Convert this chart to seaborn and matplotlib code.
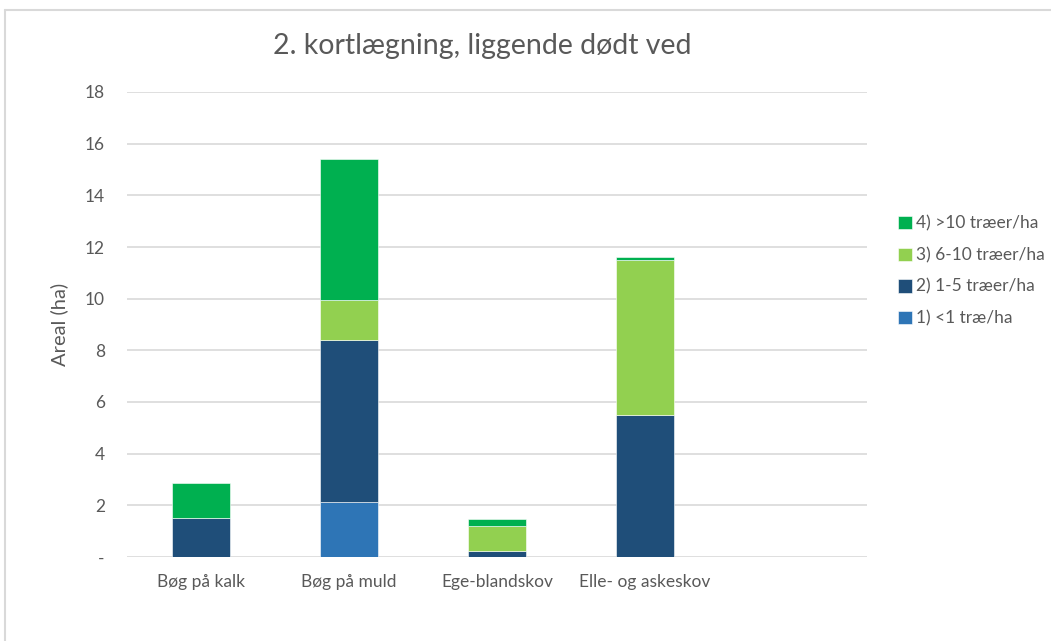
import numpy as np
import pandas as pd
import seaborn as sb
from matplotlib import pyplot as plt
from matplotlib.lines import Line2D

sb.set_style('white')
plt.rcParams['font.family'] = ['Lato', 'DejaVu Sans']

# data (ha)
habitats = ['Bøg på kalk', 'Bøg på muld', 'Ege-blandskov', 'Elle- og askeskov', '']
klasse1 = [0.0, 2.12, 0.0, 0.0, 0.0]    # 1) <1 træ/ha
klasse2 = [1.50, 6.29, 0.23, 5.48, 0.0]  # 2) 1-5 træer/ha
klasse3 = [0.0, 1.55, 0.98, 6.00, 0.0]   # 3) 6-10 træer/ha
klasse4 = [1.36, 5.43, 0.25, 0.12, 0.0]  # 4) >10 træer/ha

series = ['1) <1 træ/ha', '2) 1-5 træer/ha', '3) 6-10 træer/ha', '4) >10 træer/ha']
colours = ['#2E75B6', '#1F4E79', '#92D050', '#00B050']

grey = '#595959'

fig = plt.figure(figsize=(10.51, 6.41), dpi=100)
ax = fig.add_axes([127/1051, 1-557/641, 740/1051, 465/641])

bottom = np.zeros(len(habitats))
for name, vals, col in zip(series, [klasse1, klasse2, klasse3, klasse4], colours):
    sb.barplot(x=habitats, y=vals, order=habitats, color=col, saturation=1,
               width=0.39, bottom=bottom, label=name, ax=ax,
               edgecolor='white', linewidth=0.4)
    bottom = bottom + np.array(vals)
if ax.get_legend() is not None:
    ax.get_legend().remove()

ax.set_xlim(-0.5, 4.5)
ax.set_ylim(0, 18)
ax.set_yticks(range(0, 19, 2))
ax.set_yticklabels(['-'] + [str(v) for v in range(2, 19, 2)])
ax.yaxis.grid(True, color='#D9D9D9', linewidth=1.2)
ax.set_axisbelow(True)
for s in ax.spines.values():
    s.set_visible(False)
ax.tick_params(axis='both', length=0, labelsize=12.5, labelcolor=grey)
ax.tick_params(axis='y', pad=16)
ax.tick_params(axis='x', pad=12)
ax.set_ylabel('Areal (ha)', fontsize=14.5, color=grey, labelpad=12)
ax.set_xlabel('')

fig.text(482/1051, 1-46/641, '2. kortlægning, liggende dødt ved',
         ha='center', va='center', fontsize=20.5, color=grey)

h, l = ax.get_legend_handles_labels()
fig.legend(h[::-1], l[::-1], loc='center left',
           bbox_to_anchor=(898/1051, 1-271/641), frameon=False,
           fontsize=12.5, labelcolor=grey, labelspacing=0.9,
           borderpad=0, borderaxespad=0,
           handlelength=0.8, handleheight=0.8, handletextpad=0.25)

# chart frame
fig.add_artist(Line2D([5/1051, 5/1051], [0, 1-10/641], color='#D9D9D9', lw=1.5))
fig.add_artist(Line2D([5/1051, 1], [1-10/641, 1-10/641], color='#D9D9D9', lw=1.5))

fig.savefig('out.png', dpi=100)
